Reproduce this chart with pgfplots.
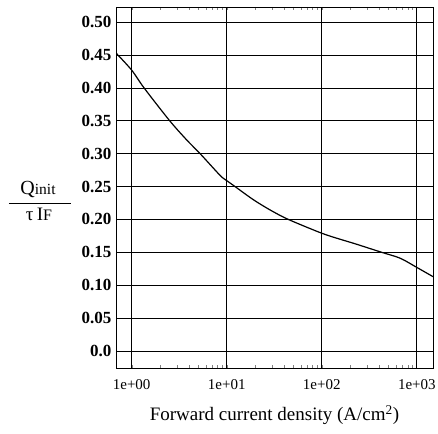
\documentclass[border=0pt]{standalone}
\usepackage{fontspec}
\setmainfont{Liberation Serif}
\usepackage{pgfplots}
\pgfplotsset{compat=1.18}

\begin{document}
\begin{tikzpicture}
\begin{axis}[
  at={(0pt,0pt)}, anchor=south west,
  scale only axis,
  width=317pt, height=361pt,
  xmode=log,
  xmin=0.684, xmax=1479,
  ymin=-0.0259, ymax=0.523,
  xtick={1,10,100,1000},
  xticklabels={1e+00,1e+01,1e+02,1e+03},
  ytick={0,0.05,0.10,0.15,0.20,0.25,0.30,0.35,0.40,0.45,0.50},
  yticklabels={0.0,0.05,0.10,0.15,0.20,0.25,0.30,0.35,0.40,0.45,0.50},
  minor tick num=0,
  major tick length=0pt,
  grid=major,
  major grid style={black, line width=0.7pt},
  axis line style={black, line width=0.8pt},
  x tick label style={font=\fontsize{15}{15}\selectfont, yshift=-8pt},
  y tick label style={font=\fontsize{17}{17}\selectfont\bfseries, xshift=-1pt},
  xlabel={Forward current density (A/cm\textsuperscript{2})},
  xlabel style={font=\fontsize{19}{19}\selectfont, yshift=-9pt},
]
\addplot[black, line width=1.2pt, smooth, tension=0.5] table {
x y
0.684 0.453
1 0.427
1.349 0.400
2.512 0.350
3.784 0.321
5.248 0.300
8.511 0.267
10 0.259
12.22 0.250
19.05 0.230
28.51 0.2145
44.46 0.200
100 0.179
154.9 0.170
223.9 0.163
426.6 0.150
668.3 0.141
1000 0.127
1479 0.113
};
\end{axis}
% quantity on the vertical axis, written as a fraction
\node[anchor=base, inner sep=0pt] at (-78pt,173pt)
  {\fontsize{20}{20}\selectfont Q\fontsize{15.5}{15.5}\selectfont init};
\draw[line width=1pt] (-107pt,164pt) -- (-45pt,164pt);
\node[anchor=base, inner sep=0pt] at (-77pt,147pt)
  {\fontsize{19}{19}\selectfont τ\,I\fontsize{16}{16}\selectfont F};
\pgfresetboundingbox
\path (-116pt,-65pt) rectangle (322pt,368pt);
\end{tikzpicture}
\end{document}
